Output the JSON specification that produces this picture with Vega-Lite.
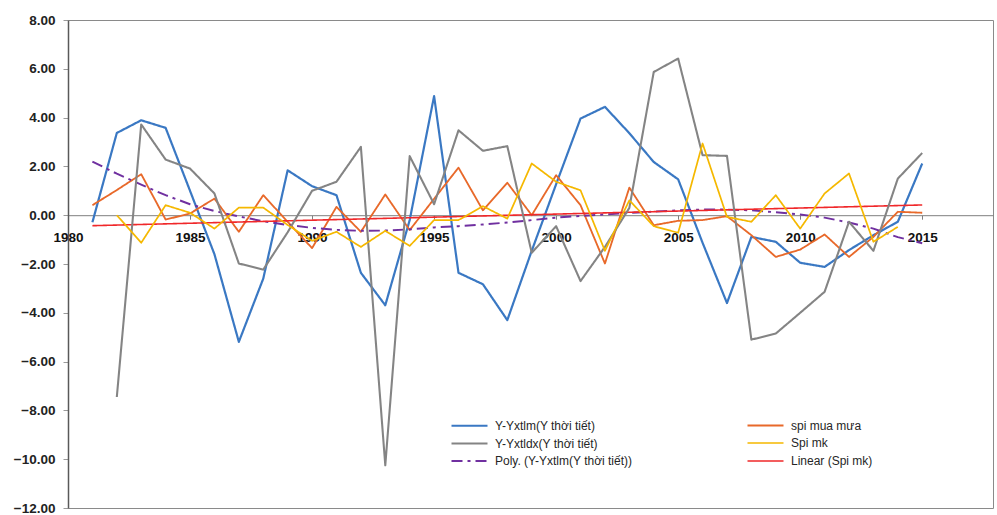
{
  "$schema": "https://vega.github.io/schema/vega-lite/v6.json",
  "width": 925,
  "height": 488,
  "autosize": {"type": "none"},
  "padding": {"left": 68, "top": 20, "right": 4, "bottom": 7},
  "background": "white",
  "config": {"view": {"stroke": "#8a8a8a", "strokeWidth": 1}, "font": "Liberation Sans"},
  "data": {"values": [
    {"year": 1981, "yxtlm": -0.29, "spi_mua": 0.41, "yxtldx": null, "spi_mk": null, "poly": 2.2, "linear": -0.43},
    {"year": 1982, "yxtlm": 3.37, "spi_mua": 1.03, "yxtldx": -7.45, "spi_mk": 0.0, "poly": 1.7, "linear": null},
    {"year": 1983, "yxtlm": 3.89, "spi_mua": 1.68, "yxtldx": 3.72, "spi_mk": -1.13, "poly": 1.25, "linear": null},
    {"year": 1984, "yxtlm": 3.58, "spi_mua": -0.18, "yxtldx": 2.28, "spi_mk": 0.41, "poly": 0.82, "linear": null},
    {"year": 1985, "yxtlm": 1.0, "spi_mua": 0.07, "yxtldx": 1.91, "spi_mk": 0.1, "poly": 0.45, "linear": null},
    {"year": 1986, "yxtlm": -1.6, "spi_mua": 0.68, "yxtldx": 0.89, "spi_mk": -0.55, "poly": 0.17, "linear": null},
    {"year": 1987, "yxtlm": -5.19, "spi_mua": -0.68, "yxtldx": -1.98, "spi_mk": 0.31, "poly": -0.05, "linear": null},
    {"year": 1988, "yxtlm": -2.6, "spi_mua": 0.82, "yxtldx": -2.23, "spi_mk": 0.31, "poly": -0.25, "linear": null},
    {"year": 1989, "yxtlm": 1.84, "spi_mua": -0.27, "yxtldx": -0.7, "spi_mk": -0.4, "poly": -0.4, "linear": null},
    {"year": 1990, "yxtlm": 1.19, "spi_mua": -1.35, "yxtldx": 1.0, "spi_mk": -1.05, "poly": -0.52, "linear": null},
    {"year": 1991, "yxtlm": 0.82, "spi_mua": 0.34, "yxtldx": 1.37, "spi_mk": -0.68, "poly": -0.6, "linear": null},
    {"year": 1992, "yxtlm": -2.36, "spi_mua": -0.68, "yxtldx": 2.8, "spi_mk": -1.3, "poly": -0.64, "linear": null},
    {"year": 1993, "yxtlm": -3.69, "spi_mua": 0.85, "yxtldx": -10.25, "spi_mk": -0.64, "poly": -0.63, "linear": null},
    {"year": 1994, "yxtlm": -0.2, "spi_mua": -0.61, "yxtldx": 2.42, "spi_mk": -1.26, "poly": -0.58, "linear": null},
    {"year": 1995, "yxtlm": 4.88, "spi_mua": 0.67, "yxtldx": 0.45, "spi_mk": -0.2, "poly": -0.5, "linear": null},
    {"year": 1996, "yxtlm": -2.36, "spi_mua": 1.95, "yxtldx": 3.48, "spi_mk": -0.2, "poly": -0.45, "linear": null},
    {"year": 1997, "yxtlm": -2.83, "spi_mua": 0.2, "yxtldx": 2.64, "spi_mk": 0.37, "poly": -0.38, "linear": null},
    {"year": 1998, "yxtlm": -4.3, "spi_mua": 1.33, "yxtldx": 2.83, "spi_mk": -0.14, "poly": -0.3, "linear": null},
    {"year": 1999, "yxtlm": -1.46, "spi_mua": 0.0, "yxtldx": -1.54, "spi_mk": 2.12, "poly": -0.2, "linear": null},
    {"year": 2000, "yxtlm": 1.27, "spi_mua": 1.64, "yxtldx": -0.45, "spi_mk": 1.37, "poly": -0.1, "linear": null},
    {"year": 2001, "yxtlm": 3.96, "spi_mua": 0.41, "yxtldx": -2.7, "spi_mk": 1.02, "poly": -0.03, "linear": null},
    {"year": 2002, "yxtlm": 4.44, "spi_mua": -1.98, "yxtldx": -1.3, "spi_mk": -1.46, "poly": 0.03, "linear": null},
    {"year": 2003, "yxtlm": 3.36, "spi_mua": 1.13, "yxtldx": 0.3, "spi_mk": 0.61, "poly": 0.09, "linear": null},
    {"year": 2004, "yxtlm": 2.18, "spi_mua": -0.41, "yxtldx": 5.87, "spi_mk": -0.45, "poly": 0.15, "linear": null},
    {"year": 2005, "yxtlm": 1.47, "spi_mua": -0.23, "yxtldx": 6.42, "spi_mk": -0.72, "poly": 0.2, "linear": null},
    {"year": 2006, "yxtlm": -1.13, "spi_mua": -0.2, "yxtldx": 2.46, "spi_mk": 2.94, "poly": 0.23, "linear": null},
    {"year": 2007, "yxtlm": -3.6, "spi_mua": -0.04, "yxtldx": 2.43, "spi_mk": -0.07, "poly": 0.23, "linear": null},
    {"year": 2008, "yxtlm": -0.89, "spi_mua": -0.82, "yxtldx": -5.1, "spi_mk": -0.27, "poly": 0.2, "linear": null},
    {"year": 2009, "yxtlm": -1.09, "spi_mua": -1.71, "yxtldx": -4.85, "spi_mk": 0.82, "poly": 0.12, "linear": null},
    {"year": 2010, "yxtlm": -1.95, "spi_mua": -1.41, "yxtldx": -4.0, "spi_mk": -0.55, "poly": 0.03, "linear": null},
    {"year": 2011, "yxtlm": -2.12, "spi_mua": -0.79, "yxtldx": -3.14, "spi_mk": 0.89, "poly": -0.1, "linear": null},
    {"year": 2012, "yxtlm": -1.43, "spi_mua": -1.71, "yxtldx": -0.27, "spi_mk": 1.71, "poly": -0.3, "linear": null},
    {"year": 2013, "yxtlm": -0.82, "spi_mua": -0.89, "yxtldx": -1.46, "spi_mk": -1.09, "poly": -0.55, "linear": null},
    {"year": 2014, "yxtlm": -0.27, "spi_mua": 0.14, "yxtldx": 1.5, "spi_mk": -0.48, "poly": -0.9, "linear": null},
    {"year": 2015, "yxtlm": 2.12, "spi_mua": 0.1, "yxtldx": 2.55, "spi_mk": null, "poly": -1.15, "linear": 0.42}
  ]},
  "transform": [
    {"fold": ["yxtlm", "yxtldx", "spi_mua", "spi_mk", "poly", "linear"], "as": ["series", "value"]},
    {"filter": "isValid(datum.value)"}
  ],
  "mark": {"type": "line", "strokeJoin": "round"},
  "encoding": {
    "x": {
      "field": "year", "type": "quantitative",
      "scale": {"domain": [1980, 2017.9], "nice": false, "zero": false},
      "axis": {
        "values": [1980, 1985, 1990, 1995, 2000, 2005, 2010, 2015],
        "format": "d", "grid": false, "title": null, "offset": -292.8,
        "domainColor": "#7f7f7f", "tickColor": "#7f7f7f", "tickSize": 4,
        "labelPadding": 11, "labelFont": "Liberation Sans", "labelFontWeight": "bold",
        "labelFontSize": 13.5, "labelColor": "#111111", "labelFlush": false, "labelOverlap": false
      }
    },
    "y": {
      "field": "value", "type": "quantitative",
      "scale": {"domain": [-12, 8], "nice": false, "zero": false},
      "axis": {
        "values": [-12, -10, -8, -6, -4, -2, 0, 2, 4, 6, 8],
        "format": ".2f", "grid": false, "title": null,
        "domainColor": "#595959", "domainWidth": 1.5, "tickColor": "#9a9a9a", "tickSize": 5,
        "labelPadding": 8, "labelFont": "Liberation Sans", "labelFontWeight": "bold",
        "labelFontSize": 13.5, "labelColor": "#222222"
      }
    },
    "color": {
      "field": "series", "type": "nominal",
      "scale": {
        "domain": ["yxtlm", "yxtldx", "poly", "spi_mua", "spi_mk", "linear"],
        "range": ["#3a78c3", "#848484", "#7030a0", "#e8692a", "#f5b800", "#f0282a"]
      },
      "legend": {
        "title": null, "orient": "none", "legendX": 382, "legendY": 398,
        "columns": 2, "columnPadding": 107, "rowPadding": 4,
        "symbolType": "M-1,0H5", "symbolSize": 144, "labelOffset": 30,
        "labelFont": "Liberation Sans", "labelFontSize": 12, "labelColor": "#262626", "labelLimit": 300,
        "labelExpr": "datum.value == 'yxtlm' ? 'Y-Yxtlm(Y thời tiết)' : datum.value == 'spi_mua' ? 'spi mua mưa' : datum.value == 'yxtldx' ? 'Y-Yxtldx(Y thời tiết)' : datum.value == 'spi_mk' ? 'Spi mk' : datum.value == 'poly' ? 'Poly. (Y-Yxtlm(Y  thời tiết))' : 'Linear (Spi mk)'"
      }
    },
    "strokeDash": {
      "field": "series", "type": "nominal",
      "scale": {
        "domain": ["yxtlm", "yxtldx", "poly", "spi_mua", "spi_mk", "linear"],
        "range": [[1, 0], [1, 0], [11, 5, 3, 5], [1, 0], [1, 0], [1, 0]]
      },
      "legend": {
        "title": null, "orient": "none", "legendX": 382, "legendY": 398,
        "columns": 2, "columnPadding": 107, "rowPadding": 4,
        "symbolType": "M-1,0H5", "symbolSize": 144, "labelOffset": 30,
        "labelFont": "Liberation Sans", "labelFontSize": 12, "labelColor": "#262626", "labelLimit": 300,
        "labelExpr": "datum.value == 'yxtlm' ? 'Y-Yxtlm(Y thời tiết)' : datum.value == 'spi_mua' ? 'spi mua mưa' : datum.value == 'yxtldx' ? 'Y-Yxtldx(Y thời tiết)' : datum.value == 'spi_mk' ? 'Spi mk' : datum.value == 'poly' ? 'Poly. (Y-Yxtlm(Y  thời tiết))' : 'Linear (Spi mk)'"
      }
    },
    "strokeWidth": {
      "field": "series", "type": "nominal",
      "scale": {
        "domain": ["yxtlm", "yxtldx", "poly", "spi_mua", "spi_mk", "linear"],
        "range": [2.2, 1.6, 3.6, 2, 2.2, 1.5]
      },
      "legend": {
        "title": null, "orient": "none", "legendX": 382, "legendY": 398,
        "columns": 2, "columnPadding": 107, "rowPadding": 4,
        "symbolType": "M-1,0H5", "symbolSize": 144, "labelOffset": 30,
        "labelFont": "Liberation Sans", "labelFontSize": 12, "labelColor": "#262626", "labelLimit": 300,
        "labelExpr": "datum.value == 'yxtlm' ? 'Y-Yxtlm(Y thời tiết)' : datum.value == 'spi_mua' ? 'spi mua mưa' : datum.value == 'yxtldx' ? 'Y-Yxtldx(Y thời tiết)' : datum.value == 'spi_mk' ? 'Spi mk' : datum.value == 'poly' ? 'Poly. (Y-Yxtlm(Y  thời tiết))' : 'Linear (Spi mk)'"
      }
    }
  }
}
